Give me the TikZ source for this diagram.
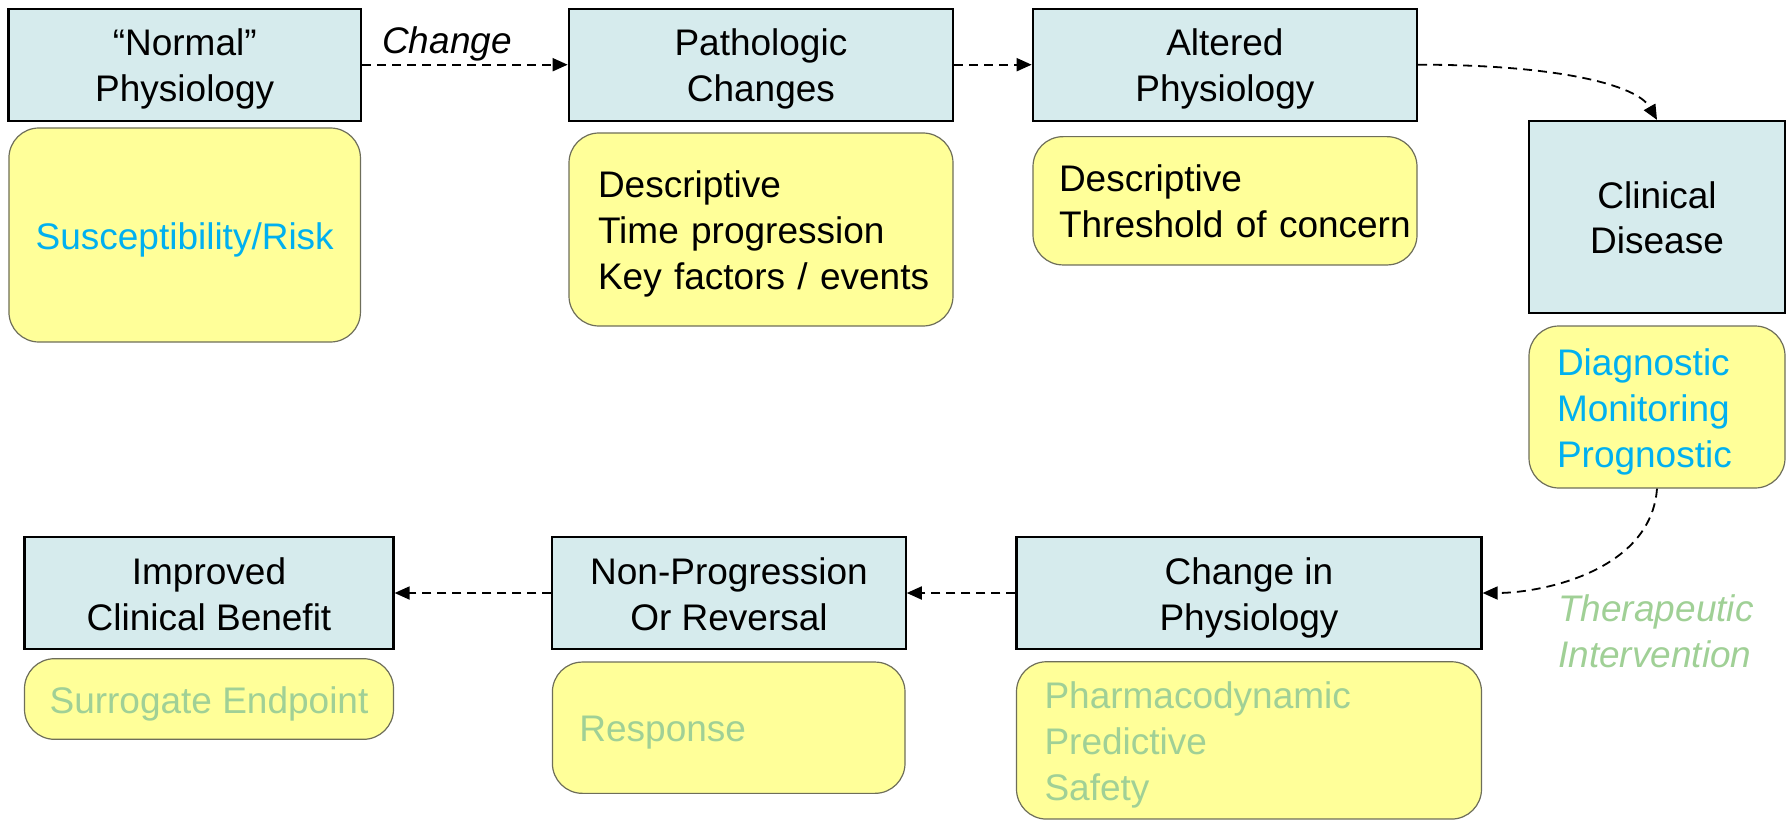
\documentclass[tikz,border=0pt]{standalone}
\usepackage{fontspec}
\setmainfont{Liberation Sans}
\usetikzlibrary{arrows.meta}
\definecolor{boxblue}{RGB}{214,235,237}
\definecolor{noteyellow}{RGB}{255,255,153}
\definecolor{noteborder}{RGB}{110,110,90}
\definecolor{skyblue}{RGB}{0,176,240}
\definecolor{palegreen}{RGB}{160,208,150}
\newcommand\ls{\rule[-9pt]{0pt}{46pt}}
\newcommand\myline[1]{\mbox{\ls #1}}
\begin{document}
\begin{tikzpicture}[x=1pt,y=-1pt,
  txt/.style={font=\fontsize{37}{46}\selectfont},
  stage/.style={txt, draw=black, line width=2.2pt, fill=boxblue, align=center, inner sep=0pt},
  note/.style={txt, draw=noteborder, line width=1.2pt, fill=noteyellow, rounded corners=30pt, inner sep=0pt},
  conn/.style={line width=1.8pt, dash pattern=on 9pt off 6pt, -{Triangle[length=15pt,width=13pt]}},
  lbl/.style={txt, font=\itshape\fontsize{37}{46}\selectfont, inner sep=0pt}]
\useasboundingbox (0,0) rectangle (1788,821);

% stage boxes
\node[stage, minimum width=352.6pt, minimum height=112pt] (n1) at (184.7,64.7) {\ls “Normal”\\\ls Physiology};
\node[stage, minimum width=384.3pt, minimum height=112pt] (n2) at (760.9,64.7) {\ls Pathologic\\\ls Changes};
\node[stage, minimum width=384.3pt, minimum height=112pt] (n3) at (1224.9,64.7) {\ls Altered\\\ls Physiology};
\node[stage, minimum width=256pt, minimum height=192pt] (n4) at (1657,217) {\ls Clinical\\\ls Disease};
\node[stage, minimum width=465pt, minimum height=112.6pt] (n5) at (1249,593) {\ls Change in\\\ls Physiology};
\node[stage, minimum width=353.3pt, minimum height=112pt] (n6) at (729,593) {\ls Non-Progression\\\ls Or Reversal};
\node[stage, minimum width=369pt, minimum height=112pt] (n7) at (209,593) {\ls Improved\\\ls Clinical Benefit};

% notes
\node[note, minimum width=351.5pt, minimum height=214pt, text=skyblue] (y1) at (184.7,235) {\ls Susceptibility/Risk};
\node[note, minimum width=384pt, minimum height=193pt, inner xsep=29pt, text width=326pt, align=left] (y2) at (761,229.5) {\myline{Descriptive}\\\myline{Time progression}\\\myline{Key factors / events}};
\node[note, minimum width=384pt, minimum height=128.3pt, inner xsep=26pt, text width=332pt, align=left] (y3) at (1225,200.8) {\myline{Descriptive}\\\myline{Threshold of concern}};
\node[note, minimum width=256pt, minimum height=162pt, inner xsep=28pt, text width=200pt, align=left, text=skyblue] (y4) at (1657,407) {\myline{Diagnostic}\\\myline{Monitoring}\\\myline{Prognostic}};
\node[note, minimum width=465pt, minimum height=157.3pt, inner xsep=28pt, text width=409pt, align=left, text=palegreen] (y5) at (1249,740.4) {\myline{Pharmacodynamic}\\\myline{Predictive}\\\myline{Safety}};
\node[note, minimum width=352.6pt, minimum height=131.3pt, inner xsep=27pt, text width=298.6pt, align=left, text=palegreen] (y6) at (728.7,727.7) {\myline{Response}};
\node[note, minimum width=369pt, minimum height=80.6pt, text=palegreen] (y7) at (209,699) {\ls Surrogate Endpoint};

% labels
\node[lbl, anchor=base] (chg) at (447,54) {Change};
\node[lbl, anchor=west, align=left, text=palegreen] (ther) at (1558,630.7) {\ls Therapeutic\\\ls Intervention};

% connectors
\draw[conn] (n1.east) -- (n2.west);
\draw[conn] (n2.east) -- (n3.west);
\draw[conn] (n3.east) .. controls +(140,0) and +(-20,-35) .. (n4.north);
\draw[conn] (y4.south) .. controls +(-6,82) and +(60,0) .. (n5.east);
\draw[conn] (n5.west) -- (n6.east);
\draw[conn] (n6.west) -- (n7.east);
\end{tikzpicture}
\end{document}
